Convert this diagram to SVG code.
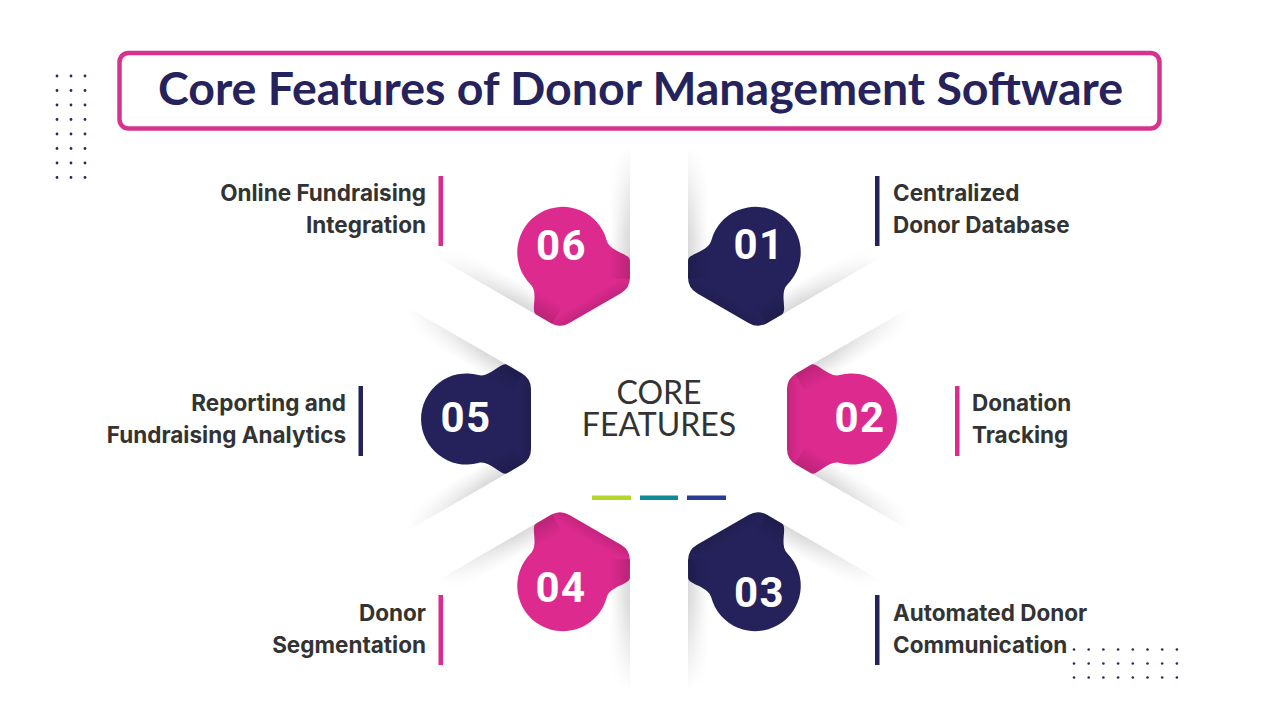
<svg xmlns="http://www.w3.org/2000/svg" xmlns:xlink="http://www.w3.org/1999/xlink" width="1280" height="720" viewBox="0 0 1280 720">
  <style>
    .title { font-family: Lato, "Liberation Sans", sans-serif; font-weight: 700; font-size: 46.5px; fill: #26235c; }
    .label { font-family: Inter, "Liberation Sans", sans-serif; font-weight: 700; font-size: 22.5px; fill: #333333; }
    .center { font-family: Lato, "Liberation Sans", sans-serif; font-weight: 400; font-size: 32px; fill: #333333; }
    .num { font-family: Roboto, "Liberation Sans", sans-serif; font-weight: 700; font-size: 42px; fill: #ffffff; letter-spacing: 1.5px; }
    .navy { fill: #25225b; }
    .pink { fill: #dc2a8e; }
    .dot { fill: #2a2a5a; }
  </style>
  <defs>
    <path id="blob" d="M128,-30 L128,30 Q128,40.4 137,45.6 L152,54.2 C158,57.6 169.1,40.8 180.7,43.95 A45.5,45.5 0 1 0 180.7,-43.95 C169.1,-40.8 158,-57.6 152,-54.2 L137,-45.6 Q128,-40.4 128,-30 Z"/>
    <clipPath id="blobClip"><use xlink:href="#blob"/></clipPath>
    <linearGradient id="gLow" gradientUnits="userSpaceOnUse" x1="132" y1="42.7" x2="142" y2="25.4">
      <stop offset="0" stop-color="#000" stop-opacity="0.15"/>
      <stop offset="1" stop-color="#000" stop-opacity="0"/>
    </linearGradient>
    <linearGradient id="gUp" gradientUnits="userSpaceOnUse" x1="132" y1="-42.7" x2="142" y2="-25.4">
      <stop offset="0" stop-color="#000" stop-opacity="0.15"/>
      <stop offset="1" stop-color="#000" stop-opacity="0"/>
    </linearGradient>
    <linearGradient id="gIn" gradientUnits="userSpaceOnUse" x1="128" y1="0" x2="140" y2="0">
      <stop offset="0" stop-color="#000" stop-opacity="0.12"/>
      <stop offset="1" stop-color="#000" stop-opacity="0"/>
    </linearGradient>
    <linearGradient id="gFade" gradientUnits="userSpaceOnUse" x1="175" y1="0" x2="252" y2="0">
      <stop offset="0" stop-color="#fff"/>
      <stop offset="1" stop-color="#000"/>
    </linearGradient>
    <mask id="fade" maskUnits="userSpaceOnUse" maskContentUnits="userSpaceOnUse" x="100" y="-200" width="250" height="400">
      <rect x="100" y="-200" width="250" height="400" fill="url(#gFade)"/>
    </mask>
    <g id="bands">
      <polygon points="136,45 265,119.5 275,102.2 146,27.7" fill="url(#gLow)"/>
      <polygon points="136,-45 265,-119.5 275,-102.2 146,-27.7" fill="url(#gUp)"/>
    </g>
    <rect id="innerShade" x="128" y="-60" width="14" height="120" fill="url(#gIn)" clip-path="url(#blobClip)"/>
  </defs>

  <rect width="1280" height="720" fill="#ffffff"/>

  <g id="dots-top-left" class="dot">
    <circle cx="57" cy="76" r="1.4"/><circle cx="71" cy="76" r="1.4"/><circle cx="85" cy="76" r="1.4"/>
    <circle cx="57" cy="90.5" r="1.4"/><circle cx="71" cy="90.5" r="1.4"/><circle cx="85" cy="90.5" r="1.4"/>
    <circle cx="57" cy="105" r="1.4"/><circle cx="71" cy="105" r="1.4"/><circle cx="85" cy="105" r="1.4"/>
    <circle cx="57" cy="119.5" r="1.4"/><circle cx="71" cy="119.5" r="1.4"/><circle cx="85" cy="119.5" r="1.4"/>
    <circle cx="57" cy="134" r="1.4"/><circle cx="71" cy="134" r="1.4"/><circle cx="85" cy="134" r="1.4"/>
    <circle cx="57" cy="148.5" r="1.4"/><circle cx="71" cy="148.5" r="1.4"/><circle cx="85" cy="148.5" r="1.4"/>
    <circle cx="57" cy="163" r="1.4"/><circle cx="71" cy="163" r="1.4"/><circle cx="85" cy="163" r="1.4"/>
    <circle cx="57" cy="177.5" r="1.4"/><circle cx="71" cy="177.5" r="1.4"/><circle cx="85" cy="177.5" r="1.4"/>
  </g>
  <g id="dots-bottom-right" class="dot">
    <circle cx="1074" cy="649.5" r="1.3"/><circle cx="1088.7" cy="649.5" r="1.3"/><circle cx="1103.4" cy="649.5" r="1.3"/><circle cx="1118.1" cy="649.5" r="1.3"/><circle cx="1132.8" cy="649.5" r="1.3"/><circle cx="1147.5" cy="649.5" r="1.3"/><circle cx="1162.2" cy="649.5" r="1.3"/><circle cx="1176.9" cy="649.5" r="1.3"/>
    <circle cx="1074" cy="663.5" r="1.3"/><circle cx="1088.7" cy="663.5" r="1.3"/><circle cx="1103.4" cy="663.5" r="1.3"/><circle cx="1118.1" cy="663.5" r="1.3"/><circle cx="1132.8" cy="663.5" r="1.3"/><circle cx="1147.5" cy="663.5" r="1.3"/><circle cx="1162.2" cy="663.5" r="1.3"/><circle cx="1176.9" cy="663.5" r="1.3"/>
    <circle cx="1074" cy="677.5" r="1.3"/><circle cx="1088.7" cy="677.5" r="1.3"/><circle cx="1103.4" cy="677.5" r="1.3"/><circle cx="1118.1" cy="677.5" r="1.3"/><circle cx="1132.8" cy="677.5" r="1.3"/><circle cx="1147.5" cy="677.5" r="1.3"/><circle cx="1162.2" cy="677.5" r="1.3"/><circle cx="1176.9" cy="677.5" r="1.3"/>
  </g>

  <g id="title">
    <rect x="119.5" y="53" width="1040" height="75.5" rx="9" ry="9" fill="#ffffff" stroke="#d6338e" stroke-width="4.5"/>
    <text class="title" x="640.5" y="105" text-anchor="middle">Core Features of Donor Management Software</text>
  </g>

  <g id="center">
    <text class="center" x="659" y="404" text-anchor="middle">CORE</text>
    <text class="center" x="659" y="436" text-anchor="middle">FEATURES</text>
    <rect x="592" y="495.5" width="39" height="4.5" fill="#b3d82a"/>
    <rect x="640" y="495.5" width="38" height="4.5" fill="#0e8a98"/>
    <rect x="687" y="495.5" width="39" height="4.5" fill="#2c3c94"/>
  </g>

  <g id="feature-01">
    <g transform="translate(659 419) rotate(300)">
      <use xlink:href="#blob" class="navy"/>
      <use xlink:href="#bands" mask="url(#fade)"/>
      <use xlink:href="#innerShade"/>
    </g>
    <text class="num" x="759" y="259" text-anchor="middle">01</text>
    <rect x="875" y="176" width="4.5" height="70" class="navy"/>
    <text class="label" x="893" y="201">Centralized</text>
    <text class="label" x="893" y="233">Donor Database</text>
  </g>

  <g id="feature-02">
    <g transform="translate(659 419) rotate(0)">
      <use xlink:href="#blob" class="pink"/>
      <use xlink:href="#bands" mask="url(#fade)"/>
      <use xlink:href="#innerShade"/>
    </g>
    <text class="num" x="860" y="432" text-anchor="middle">02</text>
    <rect x="955" y="386" width="4.5" height="70" class="pink"/>
    <text class="label" x="972" y="411">Donation</text>
    <text class="label" x="972" y="443">Tracking</text>
  </g>

  <g id="feature-03">
    <g transform="translate(659 419) rotate(60)">
      <use xlink:href="#blob" class="navy"/>
      <use xlink:href="#bands" mask="url(#fade)"/>
      <use xlink:href="#innerShade"/>
    </g>
    <text class="num" x="759.5" y="607" text-anchor="middle">03</text>
    <rect x="875" y="595" width="4.5" height="70" class="navy"/>
    <text class="label" x="893" y="621">Automated Donor</text>
    <text class="label" x="893" y="653">Communication</text>
  </g>

  <g id="feature-04">
    <g transform="translate(659 419) rotate(120)">
      <use xlink:href="#blob" class="pink"/>
      <use xlink:href="#bands" mask="url(#fade)"/>
      <use xlink:href="#innerShade"/>
    </g>
    <text class="num" x="561" y="602" text-anchor="middle">04</text>
    <rect x="438.5" y="595" width="4.5" height="70" class="pink"/>
    <text class="label" x="426" y="621" text-anchor="end">Donor</text>
    <text class="label" x="426" y="653" text-anchor="end">Segmentation</text>
  </g>

  <g id="feature-05">
    <g transform="translate(659 419) rotate(180)">
      <use xlink:href="#blob" class="navy"/>
      <use xlink:href="#bands" mask="url(#fade)"/>
      <use xlink:href="#innerShade"/>
    </g>
    <text class="num" x="466" y="432" text-anchor="middle">05</text>
    <rect x="358.5" y="386" width="4.5" height="70" class="navy"/>
    <text class="label" x="346" y="411" text-anchor="end">Reporting and</text>
    <text class="label" x="346" y="443" text-anchor="end">Fundraising Analytics</text>
  </g>

  <g id="feature-06">
    <g transform="translate(659 419) rotate(240)">
      <use xlink:href="#blob" class="pink"/>
      <use xlink:href="#bands" mask="url(#fade)"/>
      <use xlink:href="#innerShade"/>
    </g>
    <text class="num" x="561.5" y="260" text-anchor="middle">06</text>
    <rect x="438.5" y="176" width="4.5" height="70" class="pink"/>
    <text class="label" x="426" y="201" text-anchor="end">Online Fundraising</text>
    <text class="label" x="426" y="233" text-anchor="end">Integration</text>
  </g>

  <g id="connectors"></g>
</svg>
